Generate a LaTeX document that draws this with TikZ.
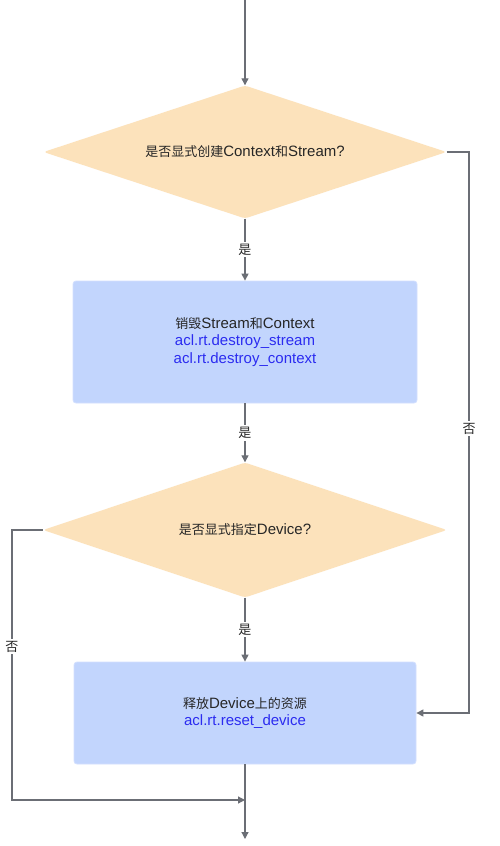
\documentclass[tikz,border=0pt]{standalone}
\usepackage{fontspec}
\setmainfont{Liberation Sans}
\newfontfamily\cjkf[Scale=0.867]{Noto Sans CJK SC}
\newcommand{\zhtxt}[1]{{\cjkf #1}}
\usetikzlibrary{shapes.geometric,arrows.meta}
\definecolor{linegray}{HTML}{6B6E75}
\definecolor{decfill}{HTML}{FCE2BB}
\definecolor{procfill}{HTML}{C2D5FD}
\definecolor{procborder}{HTML}{D3E0FF}
\definecolor{apiblue}{HTML}{2B2BF0}
\tikzset{
  decision/.style={diamond, aspect=3.03, fill=decfill, inner sep=0pt, rounded corners=3pt,
    font=\fontsize{15}{17.5}\selectfont, text=black!85},
  process/.style={rectangle, fill=procfill, draw=procborder, line width=0.8pt,
    rounded corners=3pt, align=center, font=\fontsize{15}{17.5}\selectfont, text=black!85},
  conn/.style={draw=linegray, line width=1.2pt, -{Triangle[length=7pt,width=7pt]}},
  plain/.style={draw=linegray, line width=1.2pt},
  lbl/.style={fill=white, inner sep=2pt, font=\fontsize{15}{15}\selectfont, text=black!85},
  api/.style={text=apiblue}
}
\begin{document}
\begin{tikzpicture}[x=1pt,y=-1pt]
\useasboundingbox (0,0) rectangle (499,846);
\fill[white] (0,0) rectangle (499,846);
\node[decision, minimum width=403pt, minimum height=133pt] (d1) at (245,152)
  {\zhtxt{是否显式创建}Context\zhtxt{和}Stream?};
\node[process, minimum width=344pt, minimum height=122pt] (b1) at (245,342)
  {\zhtxt{销毁}Stream\zhtxt{和}Context\\ \textcolor{apiblue}{acl.rt.destroy\_stream}\\ \textcolor{apiblue}{acl.rt.destroy\_context}};
\node[decision, minimum width=404pt, minimum height=135pt] (d2) at (245,530)
  {\zhtxt{是否显式指定}Device?};
\node[process, minimum width=342pt, minimum height=102pt] (b2) at (245,713)
  {\zhtxt{释放}Device\zhtxt{上的资源}\\ \textcolor{apiblue}{acl.rt.reset\_device}};
\coordinate (start) at (245,0);
\coordinate (rtop) at (469,152);
\coordinate (rbot) at (469,713);
\coordinate (ltop) at (12,530);
\coordinate (lbot) at (12,800);
\coordinate (merge) at (245,800);
\coordinate (finish) at (245,839);

\draw[conn] (start) -- (d1.north);
\draw[conn] (d1.south) -- node[lbl]{\zhtxt{是}} (b1.north);
\draw[conn] (b1.south) -- node[lbl]{\zhtxt{是}} (d2.north);
\draw[conn] (d2.south) -- node[lbl]{\zhtxt{是}} (b2.north);
\draw[conn] (d1.east) -- (rtop) -- node[lbl, pos=0.493]{\zhtxt{否}} (rbot) -- (b2.east);
\draw[conn] (d2.west) -- (ltop) -- node[lbl, pos=0.432]{\zhtxt{否}} (lbot) -- (merge);
\draw[plain] (b2.south) -- (merge);
\draw[conn] (merge) -- (finish);
\end{tikzpicture}
\end{document}
